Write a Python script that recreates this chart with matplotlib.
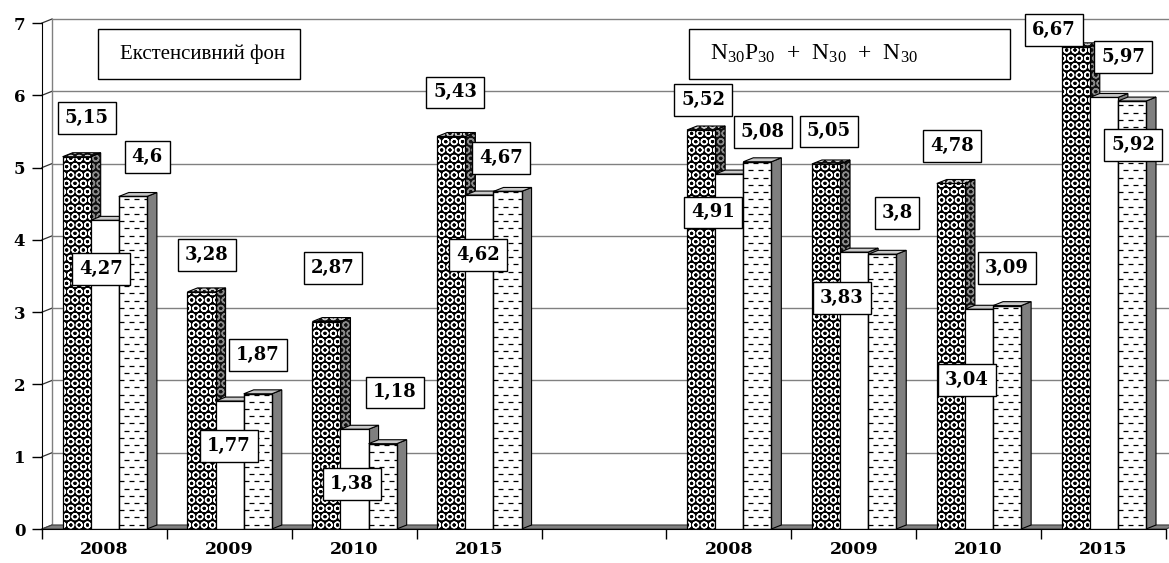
import matplotlib
matplotlib.use('Agg')
import matplotlib.pyplot as plt
import numpy as np
from matplotlib.patches import Polygon, Rectangle
from matplotlib.collections import LineCollection

# ---------------- data ----------------
categories = ['2008', '2009', '2010', '2015', '', '2008', '2009', '2010', '2015']
series_dark = [5.15, 3.28, 2.87, 5.43, np.nan, 5.52, 5.05, 4.78, 6.67]
series_white = [4.27, 1.77, 1.38, 4.62, np.nan, 4.91, 3.83, 3.04, 5.97]
series_dash = [4.60, 1.87, 1.18, 4.67, np.nan, 5.08, 3.80, 3.09, 5.92]
y_ticks = [0, 1, 2, 3, 4, 5, 6, 7]
panel_titles = ['Екстенсивний фон', r'N$_{30}$P$_{30}$  +  N$_{30}$  +  N$_{30}$']

# ---------------- layout (label positions, data coords) ----------------
label_pos_dark = [(-0.14, 5.685), (0.821, 3.79), (1.83, 3.61), (2.807, 6.04), None,
                  (4.793, 5.93), (5.802, 5.50), (6.786, 5.30), (7.603, 6.90)]
label_pos_white = [(-0.028, 3.60), (0.997, 1.15), (1.982, 0.62), (2.991, 3.79), None,
                   (4.873, 4.38), (5.906, 3.20), (6.906, 2.06), (8.156, 6.53)]
label_pos_dash = [(0.341, 5.15), (1.23, 2.41), (2.326, 1.89), (3.175, 5.13), None,
                  (5.273, 5.49), (6.346, 4.37), (7.227, 3.61), (8.236, 5.31)]
title_boxes = [(-0.052, 1.566), (4.681, 7.251)]
title_text_x = [0.125, 4.849]
title_sizes = [15, 17]
title_box_y = (6.224, 6.916)

plt.rcParams['font.family'] = ['DejaVu Serif']
plt.rcParams['mathtext.fontset'] = 'custom'
plt.rcParams['mathtext.rm'] = 'Liberation Serif'
plt.rcParams['mathtext.it'] = 'Liberation Serif:italic'
plt.rcParams['mathtext.bf'] = 'Liberation Serif:bold'
plt.rcParams['hatch.linewidth'] = 1.0

fig = plt.figure(figsize=(11.69, 5.63), dpi=100)
ax = fig.add_axes([42 / 1169, 34 / 563, 1124 / 1169, 506 / 563])
ax.set_xlim(-0.5, 8.5)
ax.set_ylim(0, 7)

DX, DY = 0.08, 0.055
W = 0.225
offsets = [-0.335, -0.11, 0.115]
GRID = '#808080'

# back wall / grid
for v in y_ticks:
    ax.plot([-0.5 + DX, 8.5 + DX], [v + DY, v + DY], color=GRID, lw=1.0, zorder=1, clip_on=False)
    ax.plot([-0.5, -0.5 + DX], [v, v + DY], color='#303030', lw=0.9, zorder=1, clip_on=False)
ax.plot([-0.5 + DX, -0.5 + DX], [DY, 7 + DY], color=GRID, lw=1.0, zorder=1, clip_on=False)

# floor
ax.add_patch(Polygon([(-0.5, 0), (8.5, 0), (8.5 + DX, DY), (-0.5 + DX, DY)],
                     closed=True, fc='#808080', ec='#404040', lw=0.8, zorder=2, clip_on=False))

x_idx = np.arange(len(categories))
all_series = [series_dark, series_white, series_dash]

for s, vals in enumerate(all_series):
    vals = np.array(vals, dtype=float)
    lefts = x_idx + offsets[s]
    zb = 3 + 3 * s
    mask = ~np.isnan(vals)
    # side and top faces
    for L, v in zip(lefts[mask], vals[mask]):
        side = [(L + W, 0), (L + W + DX, DY), (L + W + DX, v + DY), (L + W, v)]
        top = [(L, v), (L + DX, v + DY), (L + W + DX, v + DY), (L + W, v)]
        if s == 0:
            ax.add_patch(Polygon(side, closed=True, fc='#101010', ec='#8a8a8a', lw=0,
                                 hatch='OO', zorder=zb))
            ax.add_patch(Polygon(top, closed=True, fc='#101010', ec='#d0d0d0', lw=0,
                                 hatch='OO', zorder=zb))
            ax.add_patch(Polygon(side, closed=True, fill=False, ec='black', lw=0.8, zorder=zb))
            ax.add_patch(Polygon(top, closed=True, fill=False, ec='black', lw=0.8, zorder=zb))
        else:
            ax.add_patch(Polygon(side, closed=True, fc='#7f7f7f', ec='black', lw=0.8, zorder=zb))
            ax.add_patch(Polygon(top, closed=True, fc='#c8c8c8', ec='black', lw=0.8, zorder=zb))
    # front faces
    if s == 0:
        ax.bar(lefts[mask], vals[mask], width=W, align='edge', color='black',
               edgecolor='white', hatch='OO', linewidth=0, zorder=zb + 1)
        ax.bar(lefts[mask], vals[mask], width=W, align='edge', fill=False,
               edgecolor='black', linewidth=0.9, zorder=zb + 1.5)
    else:
        bars = ax.bar(lefts[mask], vals[mask], width=W, align='edge', color='white',
                      edgecolor='black', linewidth=0.9, zorder=zb + 1)
        if s == 2:
            for rect in bars:
                L = rect.get_x()
                h = rect.get_height()
                rows = np.arange(0.06, h, 0.1)
                segs = [[(L, r), (L + W, r)] for r in rows]
                styles = [(0 if k % 2 == 0 else 4.0, (4.0, 4.0)) for k in range(len(rows))]
                lc = LineCollection(segs, colors='black', linewidths=0.9,
                                    linestyles=styles, zorder=zb + 1.2)
                ax.add_collection(lc)
                lc.set_clip_path(rect)
                ax.add_patch(Rectangle((L, 0), W, h, fill=False, ec='black', lw=0.9,
                                       zorder=zb + 1.5))

# value labels
for vals, poss in zip(all_series, [label_pos_dark, label_pos_white, label_pos_dash]):
    for v, p in zip(vals, poss):
        if p is None or np.isnan(v):
            continue
        ax.text(p[0], p[1], f"{v:g}".replace('.', ','), ha='center', va='center',
                fontsize=13, fontweight='bold', zorder=30, clip_on=False,
                bbox=dict(boxstyle='square,pad=0.38', fc='white', ec='black', lw=1.0))

# panel titles
for (x0, x1), tx, t, fs in zip(title_boxes, title_text_x, panel_titles, title_sizes):
    ax.add_patch(Rectangle((x0, title_box_y[0]), x1 - x0, title_box_y[1] - title_box_y[0],
                           fc='white', ec='black', lw=1.0, zorder=25, clip_on=False))
    ax.text(tx, (title_box_y[0] + title_box_y[1]) / 2, t, ha='left', va='center',
            fontsize=fs, family='Liberation Serif', zorder=26)

# axes
for sp in ['top', 'right']:
    ax.spines[sp].set_visible(False)
ax.spines['left'].set_color('black')
ax.spines['bottom'].set_color('black')
ax.spines['left'].set_zorder(40)
ax.spines['bottom'].set_zorder(40)
ax.set_yticks(y_ticks)
ax.set_yticklabels([str(t) for t in y_ticks], fontsize=12, fontweight='bold')
ax.tick_params(axis='y', direction='out', length=7, width=1, pad=5)
ax.set_xticks(np.arange(-0.5, len(categories), 1.0))
ax.set_xticklabels([])
ax.set_xticks(x_idx, minor=True)
ax.set_xticklabels(categories, minor=True, fontsize=12.5, fontweight='bold')
ax.tick_params(axis='x', which='major', direction='out', length=7, width=1)
ax.tick_params(axis='x', which='minor', length=0, pad=9)
ax.patch.set_alpha(0)

fig.savefig('out.png', dpi=100)
